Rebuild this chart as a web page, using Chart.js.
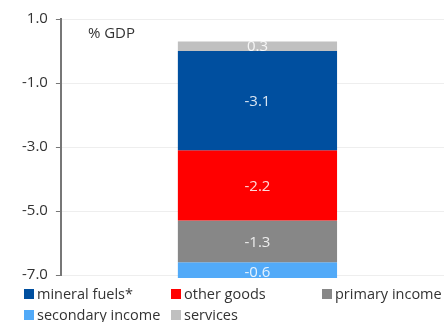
<!DOCTYPE html>
<html>
<head>
<meta charset="utf-8">
<script src="https://cdn.jsdelivr.net/npm/chart.js@4/dist/chart.umd.min.js"></script>
<style>
  html, body { margin: 0; padding: 0; background: #fff; overflow: hidden; }
  #wrap { position: relative; width: 444px; height: 322px; overflow: hidden; font-family: "Open Sans", sans-serif; }
  #chart-box { position: absolute; left: 0; top: 0; width: 454px; height: 292px; }
  #legend { position: absolute; left: 0; top: 285px; width: 444px; }
  .lg { position: absolute; font-size: 14.5px; color: #333; white-space: nowrap; line-height: 18px; }
  .lg i { display: inline-block; width: 10px; height: 10px; margin-right: 3px; vertical-align: 0px; }
</style>
</head>
<body>
<div id="wrap">
  <div id="chart-box"><canvas id="c"></canvas></div>
  <div id="legend"></div>
</div>
<script>
// ─── Data ─────────────────────────────────────────────────────────────────────
const categories = [''];
const seriesNames = ['mineral fuels*', 'other goods', 'primary income', 'secondary income', 'services'];
const seriesColors = ['#004f9f', '#ff0000', '#878787', '#52aaf8', '#c0c0c0'];
const mineralFuels = [-3.1];
const otherGoods = [-2.2];
const primaryIncome = [-1.3];
const secondaryIncome = [-0.6];
const services = [0.3];
const yTicks = [1, -1, -3, -5, -7];

const seriesValues = [mineralFuels, otherGoods, primaryIncome, secondaryIncome, services];

// ─── Plugins: bar labels + "% GDP" note ───────────────────────────────────────
const barLabels = {
    id: 'barLabels',
    afterDatasetsDraw(chart) {
        const { ctx, chartArea } = chart;
        ctx.save();
        ctx.beginPath();
        ctx.rect(chartArea.left, chartArea.top - 10, chartArea.width, chartArea.height + 13);
        ctx.clip();
        ctx.font = '15px "Open Sans", sans-serif';
        ctx.fillStyle = 'rgba(255,255,255,0.85)';
        ctx.textAlign = 'center';
        ctx.textBaseline = 'middle';
        chart.data.datasets.forEach((ds, i) => {
            chart.getDatasetMeta(i).data.forEach((bar, j) => {
                const mid = (bar.y + bar.base) / 2;
                ctx.fillText(ds.data[j].toFixed(1), bar.x, mid + 1);
            });
        });
        ctx.restore();
    }
};

const unitNote = {
    id: 'unitNote',
    afterDraw(chart) {
        const { ctx, chartArea } = chart;
        ctx.save();
        ctx.font = '15px "Open Sans", sans-serif';
        ctx.fillStyle = '#333';
        ctx.textBaseline = 'middle';
        ctx.fillText('% GDP', chartArea.left + 27, chartArea.top + 15);
        ctx.restore();
    }
};

// ─── Chart ────────────────────────────────────────────────────────────────────
new Chart(document.getElementById('c'), {
    type: 'bar',
    data: {
        labels: categories,
        datasets: seriesNames.map((name, i) => ({
            label: name,
            data: seriesValues[i],
            backgroundColor: seriesColors[i],
            borderWidth: 0,
            barPercentage: 0.405,
            categoryPercentage: 1,
            clip: { left: 0, top: 0, right: 0, bottom: 3 }
        }))
    },
    options: {
        responsive: true,
        maintainAspectRatio: false,
        animation: false,
        layout: { padding: { top: 19, right: 0, bottom: 0, left: 14 } },
        plugins: { legend: { display: false }, tooltip: { enabled: false } },
        scales: {
            x: {
                stacked: true,
                display: false
            },
            y: {
                stacked: true,
                min: -7,
                max: 1,
                afterBuildTicks: axis => { axis.ticks = yTicks.map(v => ({ value: v })); },
                ticks: {
                    font: { size: 15, family: '"Open Sans", sans-serif' },
                    color: '#333',
                    padding: 8,
                    callback: v => v.toFixed(1)
                },
                grid: { color: '#eeeeee', tickColor: '#777', tickLength: 5, lineWidth: 1 },
                border: { display: true, color: '#777', width: 2 }
            }
        }
    },
    plugins: [barLabels, unitNote]
});

// ─── Legend (fixed columns) ───────────────────────────────────────────────────
const legendEl = document.getElementById('legend');
const colX = [24, 171, 322];
seriesNames.forEach((name, i) => {
    const d = document.createElement('div');
    d.className = 'lg';
    d.style.left = colX[i % 3] + 'px';
    d.style.top = (Math.floor(i / 3) * 21) + 'px';
    d.innerHTML = `<i style="background:${seriesColors[i]}"></i>${name}`;
    legendEl.appendChild(d);
});
</script>
</body>
</html>
